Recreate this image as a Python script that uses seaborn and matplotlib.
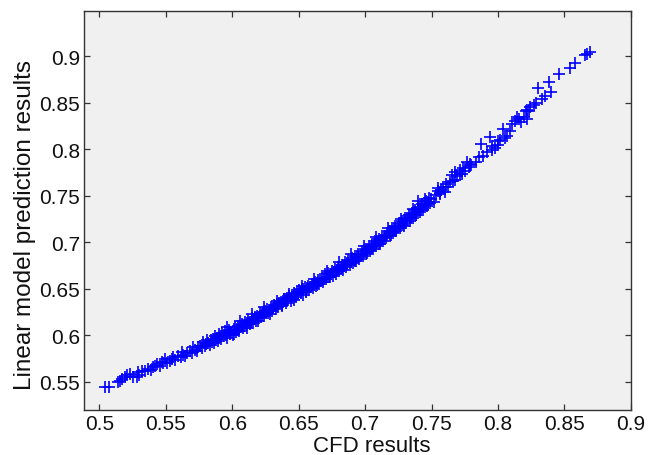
import matplotlib
matplotlib.use("Agg")
import matplotlib.pyplot as plt
import seaborn as sns
import pandas as pd

# CFD results vs. linear-model predictions
cfd = [
    0.504, 0.507, 0.514, 0.5155, 0.517, 0.5195, 0.5205, 0.523, 0.525, 0.528,
    0.5292, 0.530, 0.5318, 0.534, 0.5367, 0.539, 0.5405, 0.542, 0.543, 0.5455,
    0.5468, 0.548, 0.5493, 0.551, 0.553, 0.5545, 0.5556, 0.557, 0.5593, 0.561,
    0.5619, 0.563, 0.5644, 0.566, 0.5681, 0.5695, 0.5706, 0.572, 0.5732, 0.5745,
    0.5757, 0.577, 0.5782, 0.5795,
    0.5805, 0.5812, 0.582, 0.5831, 0.5838, 0.5846, 0.5855, 0.5863, 0.587, 0.5878,
    0.5886, 0.5893, 0.5901, 0.591, 0.5918, 0.5925, 0.5934, 0.5945, 0.5952, 0.596,
    0.5968, 0.5977, 0.5985, 0.5993, 0.6002, 0.601, 0.602, 0.6028, 0.6036, 0.6045,
    0.6053, 0.6061, 0.607, 0.6079, 0.6087, 0.6096, 0.6104, 0.6112, 0.6121, 0.613,
    0.6138, 0.6147, 0.6155, 0.6163, 0.6171, 0.618, 0.6189, 0.6197, 0.6205, 0.6214,
    0.6222, 0.623, 0.6238, 0.6246, 0.6255, 0.6263, 0.6272, 0.628, 0.6289, 0.6297,
    0.6305, 0.6313, 0.6321, 0.633, 0.6338, 0.6347, 0.6355, 0.6363, 0.6372, 0.638,
    0.6388, 0.6397, 0.6405, 0.6414, 0.6422, 0.643, 0.6439, 0.6447, 0.6455, 0.6464,
    0.6472, 0.648, 0.6489, 0.6497, 0.6505, 0.6514, 0.6522, 0.653, 0.6535,
    0.6547, 0.6555, 0.6563, 0.6571, 0.658, 0.6588, 0.6597, 0.6605, 0.6613, 0.6622,
    0.663, 0.6638, 0.6647, 0.6655, 0.6663, 0.6672, 0.668, 0.6689, 0.6698, 0.6706,
    0.6714, 0.6723, 0.6731, 0.674, 0.6748, 0.6756, 0.6765, 0.6773, 0.6781, 0.679,
    0.6798, 0.6806, 0.6815, 0.6823, 0.6832, 0.684, 0.6849, 0.6857, 0.6865, 0.6874,
    0.6882, 0.689, 0.6899, 0.6907, 0.6915, 0.6924, 0.6932, 0.6941, 0.6949, 0.6957,
    0.6966, 0.6974, 0.6983, 0.6991, 0.6999, 0.7008, 0.7016, 0.7025, 0.7033, 0.7042,
    0.705, 0.7059, 0.7067, 0.7075, 0.7084, 0.7092, 0.7101, 0.7109, 0.7118, 0.7126,
    0.7134, 0.7143, 0.715, 0.7159, 0.7167, 0.7176, 0.7184, 0.7193, 0.7201, 0.721,
    0.7218, 0.7227, 0.7235, 0.7244, 0.7252, 0.726, 0.7269, 0.7276, 0.7285,
    0.7293, 0.7301, 0.731, 0.7318, 0.7327, 0.7335, 0.7344, 0.7352, 0.7361, 0.7369,
    0.7378, 0.7386, 0.7395, 0.740, 0.7404, 0.7412, 0.7421, 0.743, 0.7438, 0.7447,
    0.7455, 0.7464, 0.7472, 0.748, 0.749, 0.7498, 0.752, 0.7535, 0.7551, 0.756,
    0.7573, 0.7585, 0.7598, 0.7611, 0.7623, 0.7635, 0.765, 0.7662, 0.7674, 0.7677,
    0.769, 0.771, 0.7713, 0.7725, 0.774, 0.7752, 0.7765, 0.7779, 0.779, 0.7797,
    0.7832, 0.7857, 0.787, 0.789, 0.7915, 0.794, 0.7955, 0.7957, 0.7978, 0.800,
    0.8003, 0.8012, 0.8036, 0.8055, 0.8066, 0.809, 0.8103, 0.8125, 0.8146, 0.8155,
    0.8171, 0.8195, 0.821, 0.8217, 0.8221, 0.8235, 0.8242, 0.8268, 0.8287, 0.8304,
    0.833, 0.8355, 0.838, 0.8397, 0.8462, 0.8538, 0.858, 0.8656, 0.867, 0.8694,
    # lower edge of the dense band
    0.6015, 0.6108, 0.6195, 0.6285, 0.6375, 0.6462, 0.6552, 0.6641, 0.6735, 0.6828,
    0.6921, 0.7013, 0.7106, 0.7198, 0.7291, 0.7384, 0.7476, 0.7566,
    # upper edge of the dense band
    0.5962, 0.6055, 0.6149, 0.6242, 0.6336, 0.6429, 0.6522, 0.6615, 0.6709, 0.6802,
    0.6895, 0.6988, 0.7081, 0.7174, 0.7267, 0.7359, 0.7452, 0.7545,
]
prediction = [
    0.544, 0.5445, 0.5495, 0.551, 0.5525, 0.5555, 0.557, 0.5585, 0.5555, 0.5547,
    0.5601, 0.5575, 0.5618, 0.562, 0.5637, 0.5625, 0.5655, 0.5665, 0.569, 0.5675,
    0.5709, 0.570, 0.5744, 0.5705, 0.5726, 0.574, 0.5762, 0.5735, 0.578, 0.5765,
    0.5816, 0.5785, 0.578, 0.5805, 0.5833, 0.5815, 0.587, 0.5845, 0.5833, 0.587,
    0.5887, 0.5865, 0.5924, 0.589,
    0.5905, 0.5945, 0.5918, 0.5898, 0.5952, 0.5931, 0.5962, 0.5915, 0.5995, 0.5948,
    0.5972, 0.5938, 0.6012, 0.5978, 0.5955, 0.6021, 0.5992, 0.6048, 0.6001, 0.5975,
    0.6035, 0.6062, 0.6018, 0.6041, 0.5998, 0.6072, 0.6085, 0.6035, 0.6062, 0.6101,
    0.6049, 0.6088, 0.6121, 0.6075, 0.6104, 0.6139, 0.6098, 0.6126, 0.6162, 0.6118,
    0.6148, 0.6181, 0.6135, 0.6171, 0.6192, 0.6152, 0.6208, 0.6181, 0.6236, 0.6195,
    0.6219, 0.6252, 0.6208, 0.6263, 0.6238, 0.6281, 0.6242, 0.6275, 0.6302, 0.6265,
    0.6292, 0.6321, 0.6317, 0.6285, 0.6336, 0.6301, 0.6344, 0.6362, 0.6329, 0.6371,
    0.6392, 0.6371, 0.6345, 0.6402, 0.6381, 0.6418, 0.6365, 0.6429, 0.6405, 0.6451,
    0.6443, 0.6412, 0.6468, 0.6439, 0.6482, 0.6456, 0.6495, 0.6431, 0.6497,
    0.6515, 0.6472, 0.6508, 0.6535, 0.6488, 0.6521, 0.6556, 0.6509, 0.6548, 0.6575,
    0.6531, 0.6562, 0.6598, 0.6552, 0.6589, 0.6621, 0.6573, 0.6608, 0.6658, 0.6601,
    0.6632, 0.6668, 0.6622, 0.6655, 0.6692, 0.6641, 0.6677, 0.6712, 0.6662, 0.6701,
    0.6735, 0.6688, 0.6722, 0.6758, 0.6705, 0.6744, 0.6784, 0.6731, 0.6768, 0.6805,
    0.6752, 0.6791, 0.6829, 0.6778, 0.6815, 0.6852, 0.6801, 0.6841, 0.6877, 0.6825,
    0.6866, 0.6902, 0.6852, 0.6891, 0.6927, 0.6878, 0.6916, 0.6955, 0.6905, 0.6943,
    0.6981, 0.6931, 0.6972, 0.7009, 0.6958, 0.6998, 0.7038, 0.6986, 0.7026, 0.7066,
    0.7012, 0.7052, 0.707, 0.7041, 0.7082, 0.7122, 0.7068, 0.7109, 0.7151, 0.7098,
    0.7139, 0.7178, 0.7125, 0.7168, 0.7209, 0.7155, 0.7196, 0.7231, 0.7182,
    0.7228, 0.7262, 0.7205, 0.7248, 0.7291, 0.7232, 0.7275, 0.7318, 0.7261, 0.7305,
    0.7348, 0.7289, 0.7335, 0.7446, 0.7378, 0.7321, 0.7366, 0.7411, 0.7352, 0.7398,
    0.7445, 0.7385, 0.7432, 0.7478, 0.7418, 0.7465, 0.743, 0.7504, 0.7554, 0.7515,
    0.7558, 0.7598, 0.7545, 0.7622, 0.7594, 0.765, 0.772, 0.7661, 0.767, 0.7752,
    0.7712, 0.773, 0.7773, 0.7735, 0.7795, 0.7762, 0.7859, 0.781, 0.7843, 0.7835,
    0.786, 0.7914, 0.8056, 0.7932, 0.7967, 0.8128, 0.799, 0.8037, 0.8015, 0.805,
    0.8091, 0.8105, 0.8217, 0.8125, 0.8145, 0.820, 0.827, 0.8305, 0.8343, 0.8322,
    0.829, 0.8352, 0.841, 0.8325, 0.8422, 0.8408, 0.845, 0.8475, 0.850, 0.8655,
    0.854, 0.8575, 0.8726, 0.8618, 0.8805, 0.887, 0.8924, 0.9013, 0.902, 0.9048,
    0.6012, 0.6082, 0.6153, 0.6228, 0.631, 0.6385, 0.6465, 0.654, 0.663, 0.672,
    0.680, 0.689, 0.6985, 0.708, 0.718, 0.729, 0.741, 0.7525,
    0.6085, 0.6155, 0.6228, 0.630, 0.637, 0.6445, 0.6525, 0.6605, 0.6695, 0.6785,
    0.687, 0.6962, 0.7055, 0.715, 0.7255, 0.7355, 0.747, 0.7585,
]

x_ticks = [0.5, 0.55, 0.6, 0.65, 0.7, 0.75, 0.8, 0.85, 0.9]
y_ticks = [0.55, 0.6, 0.65, 0.7, 0.75, 0.8, 0.85, 0.9]

sns.set_style("ticks")
plt.rcParams["font.family"] = ["Liberation Sans", "DejaVu Sans"]
plt.rcParams["xtick.direction"] = "in"
plt.rcParams["ytick.direction"] = "in"

df = pd.DataFrame({"CFD": cfd, "Pred": prediction})

fig = plt.figure(figsize=(6.62, 4.56), dpi=100)
ax = fig.add_axes([0.1274, 0.0993, 0.8256, 0.8750])
ax.set_facecolor("#f0f0f0")

sns.scatterplot(data=df, x="CFD", y="Pred", marker="+", s=80,
                color="#0000ff", linewidth=1.2, ax=ax, legend=False)

ax.set_xlim(0.4886, 0.9)
ax.set_ylim(0.52, 0.949)
ax.set_xticks(x_ticks)
ax.set_xticklabels([f"{t:g}" for t in x_ticks])
ax.set_yticks(y_ticks)
ax.set_yticklabels([f"{t:g}" for t in y_ticks])
ax.tick_params(axis="both", which="both", top=True, right=True, length=4,
               width=0.9, color="#333333", labelsize=15, labelcolor="#111111", pad=3)
for sp in ax.spines.values():
    sp.set_color("#333333")
    sp.set_linewidth(1.0)
    sp.set_visible(True)

ax.set_xlabel("CFD results", fontsize=16, color="#111111", va="center")
ax.set_ylabel("Linear model prediction results", fontsize=17.5, color="#111111", va="center")
ax.xaxis.set_label_coords(0.526, -0.09)
ax.yaxis.set_label_coords(-0.108, 0.465)

fig.savefig("out.png", dpi=100, facecolor="white")
